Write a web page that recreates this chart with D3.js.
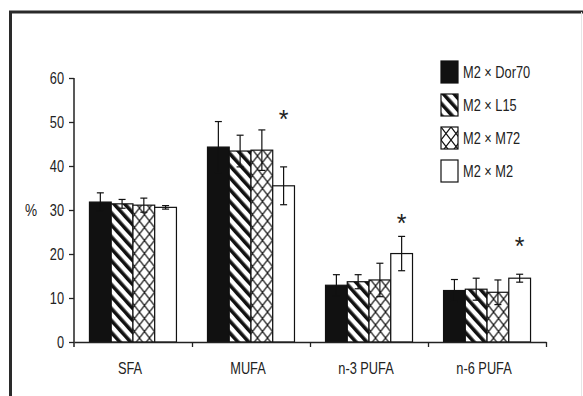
<!DOCTYPE html>
<html>
<head>
<meta charset="utf-8">
<script src="https://cdn.jsdelivr.net/npm/d3@7"></script>
<style>
  body { margin: 0; background: #fff; }
  text { font-family: "Liberation Sans", Arial, sans-serif; fill: #222; }
</style>
</head>
<body>
<div id="chart"></div>
<script>
(function () {

    // fatty acid classes on the x axis
    const categories = ["SFA", "MUFA", "n-3 PUFA", "n-6 PUFA"]
    const crosses = ["M2 \u00d7 Dor70", "M2 \u00d7 L15", "M2 \u00d7 M72", "M2 \u00d7 M2"]

    // mean % per cross, one array per cross, in category order
    const dor70 = [31.8, 44.3, 12.9, 11.7]
    const l15 = [31.4, 43.4, 13.7, 12.0]
    const m72 = [31.1, 43.6, 14.1, 11.3]
    const m2 = [30.6, 35.5, 20.1, 14.5]

    // standard deviations
    const dor70Err = [2.1, 5.8, 2.4, 2.5]
    const l15Err = [1.0, 3.6, 1.6, 2.5]
    const m72Err = [1.6, 4.6, 3.8, 2.8]
    const m2Err = [0.4, 4.3, 3.9, 0.9]

    // significance marks (category, height in %)
    const stars = [
        {category: "MUFA", value: 53.0},
        {category: "n-3 PUFA", value: 29.3},
        {category: "n-6 PUFA", value: 24.0}
    ]

    const yTicks = [0, 10, 20, 30, 40, 50, 60]

    const series = [dor70, l15, m72, m2]
    const errors = [dor70Err, l15Err, m72Err, m2Err]
    const fills = ["#111", "url(#stripes)", "url(#cross)", "#fff"]
    const squeeze = 0.8   // the figure's lettering is a condensed face

    const width = 583, height = 396
    const svg = d3.select("#chart").append("svg")
        .attr("width", width)
        .attr("height", height)

    const defs = svg.append("defs")
    const stripes = defs.append("pattern")
        .attr("id", "stripes")
        .attr("patternUnits", "userSpaceOnUse")
        .attr("width", 8).attr("height", 8)
        .attr("patternTransform", "rotate(-42)")
    stripes.append("rect").attr("width", 8).attr("height", 8).attr("fill", "#fff")
    stripes.append("rect").attr("width", 3.6).attr("height", 8).attr("fill", "#111")

    const cross = defs.append("pattern")
        .attr("id", "cross")
        .attr("patternUnits", "userSpaceOnUse")
        .attr("width", 10).attr("height", 13)
    cross.append("rect").attr("width", 10).attr("height", 13).attr("fill", "#fff")
    cross.append("path")
        .attr("d", "M0,0L10,13M10,0L0,13")
        .attr("stroke", "#111")
        .attr("stroke-width", 1.2)

    // condensed label: group at the anchor point, text squeezed horizontally
    function label(parent, px, py, txt, size, anchor) {
        const g = parent.append("g").attr("transform", "translate(" + px + "," + py + ")")
        g.append("text")
            .attr("transform", "scale(" + squeeze + ",1)")
            .attr("text-anchor", anchor || "start")
            .style("font-size", size + "px")
            .text(txt)
        return g
    }

    // frame around the figure
    svg.append("path")
        .attr("d", "M10.5," + height + "V12H" + width)
        .attr("fill", "none")
        .attr("stroke", "#2a2a2a")
        .attr("stroke-width", 3)
    svg.append("line")
        .attr("x1", 581.5).attr("x2", 581.5).attr("y1", 12).attr("y2", height)
        .attr("stroke", "#e6e6e6").attr("stroke-width", 1)

    const x = d3.scaleBand()
        .domain(categories)
        .range([74, 546])
        .paddingInner(0.263)
        .paddingOuter(0.131)
    const xInner = d3.scaleBand()
        .domain(crosses)
        .range([0, x.bandwidth()])
    const y = d3.scaleLinear()
        .domain([0, 60])
        .range([342, 78])

    // bars
    const groups = svg.append("g").selectAll("g")
        .data(categories)
        .join("g")
        .attr("transform", d => "translate(" + x(d) + ",0)")

    const cells = (c, ci) => crosses.map((s, si) => ({s: s, si: si, v: series[si][ci], e: errors[si][ci]}))

    groups.selectAll("rect")
        .data(cells)
        .join("rect")
        .attr("x", d => xInner(d.s))
        .attr("y", d => y(d.v))
        .attr("width", xInner.bandwidth())
        .attr("height", d => y(0) - y(d.v))
        .attr("fill", d => fills[d.si])
        .attr("stroke", "#111")
        .attr("stroke-width", 1.2)

    // error bars
    const err = groups.selectAll("g.err")
        .data(cells)
        .join("g")
        .attr("class", "err")
        .attr("stroke", "#111")
        .attr("stroke-width", 1.2)
    const cx = d => xInner(d.s) + xInner.bandwidth() / 2
    err.append("line")
        .attr("x1", cx).attr("x2", cx)
        .attr("y1", d => y(d.v + d.e)).attr("y2", d => y(d.v - d.e))
    err.append("line")
        .attr("x1", d => cx(d) - 3.5).attr("x2", d => cx(d) + 3.5)
        .attr("y1", d => y(d.v + d.e)).attr("y2", d => y(d.v + d.e))
    err.append("line")
        .attr("x1", d => cx(d) - 3.5).attr("x2", d => cx(d) + 3.5)
        .attr("y1", d => y(d.v - d.e)).attr("y2", d => y(d.v - d.e))

    // asterisks over the M2 x M2 bars
    svg.append("g").selectAll("text")
        .data(stars)
        .join("text")
        .attr("x", d => x(d.category) + xInner(crosses[3]) + xInner.bandwidth() / 2)
        .attr("y", d => y(d.value))
        .attr("dy", "0.75em")
        .attr("text-anchor", "middle")
        .style("font-size", "25px")
        .text("*")

    // y axis
    const yAxis = svg.append("g")
        .attr("transform", "translate(74,0)")
        .call(d3.axisLeft(y).tickValues(yTicks).tickSize(5).tickPadding(5).tickSizeOuter(0))
    yAxis.select(".domain").attr("stroke", "#222").attr("stroke-width", 1.5)
        .attr("d", "M0,78V347")
    yAxis.selectAll(".tick line").attr("stroke", "#222").attr("stroke-width", 1.3)
    yAxis.selectAll(".tick text")
        .attr("x", -10 / squeeze)
        .attr("transform", "scale(" + squeeze + ",1)")
        .style("font-size", "16px")
        .attr("fill", "#222")

    label(svg, 31, y(30) + 6, "%", 17, "middle")

    // x axis: boundaries between classes carry the ticks
    const xb = d3.scaleLinear().domain([0, categories.length]).range([74, 546])
    const xAxis = svg.append("g")
        .attr("transform", "translate(0,342)")
        .call(d3.axisBottom(xb).tickValues(d3.range(1, categories.length + 1)).tickSize(5).tickFormat("").tickSizeOuter(0))
    xAxis.select(".domain").attr("stroke", "#222").attr("stroke-width", 1.5)
    xAxis.selectAll(".tick line").attr("stroke", "#222").attr("stroke-width", 1.3)

    categories.forEach(c => label(svg, x(c) + x.bandwidth() / 2 - 3, 374, c, 16, "middle"))

    // legend
    const legend = svg.append("g").selectAll("g")
        .data(crosses)
        .join("g")
        .attr("transform", (d, i) => "translate(441," + (61 + i * 33) + ")")
    legend.append("rect")
        .attr("width", 17)
        .attr("height", 22)
        .attr("fill", (d, i) => fills[i])
        .attr("stroke", "#111")
        .attr("stroke-width", 1.2)
    legend.each(function (d) {
        label(d3.select(this), 22, 17, d, 16)
    })

})()
</script>
</body>
</html>
